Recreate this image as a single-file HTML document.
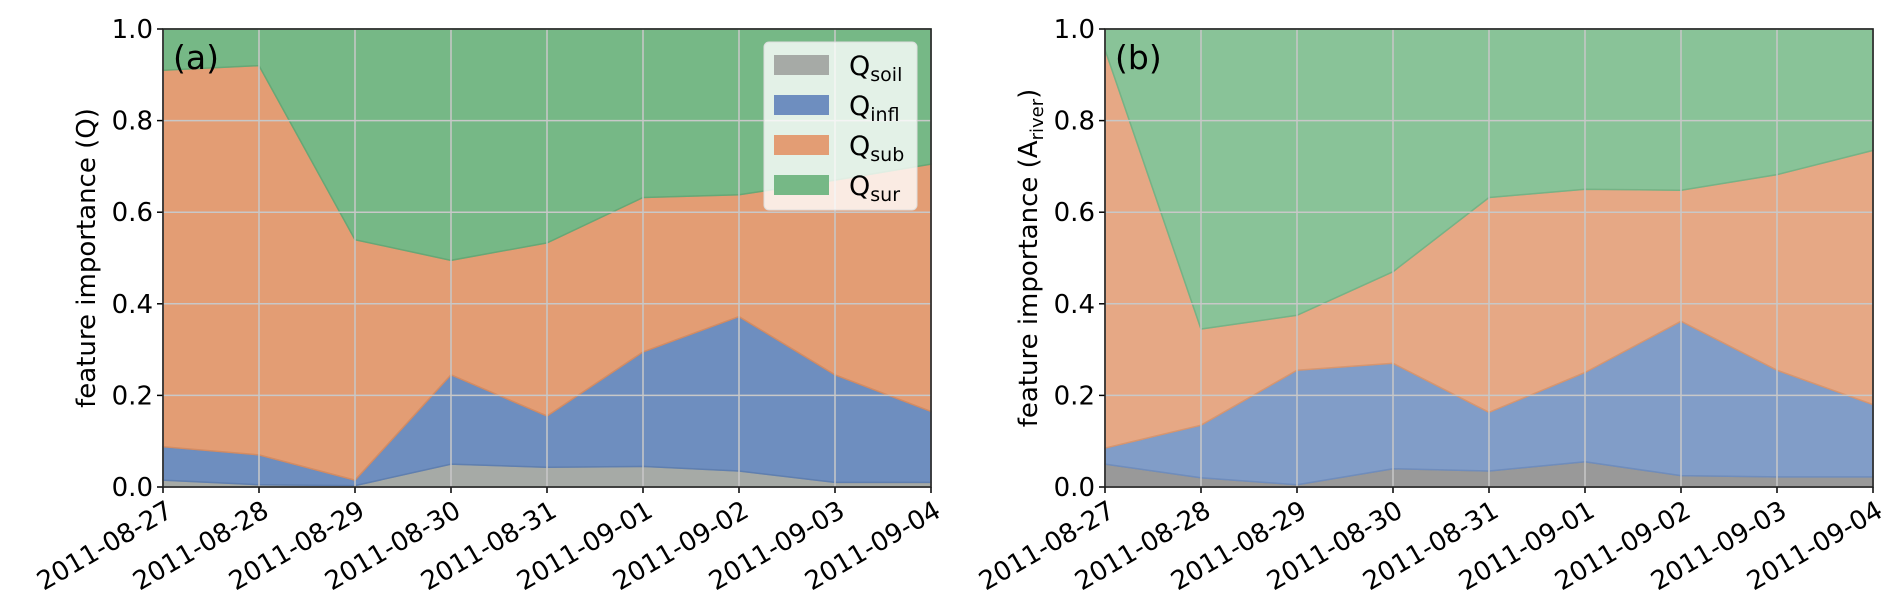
<!DOCTYPE html>
<html><head><meta charset="utf-8"><style>
html,body{margin:0;padding:0;background:#fff;}
svg{display:block;font-family:"DejaVu Sans","Liberation Sans",sans-serif;}
</style></head><body>
<svg id="chart" width="1892" height="613" viewBox="0 0 1892 613"></svg>
<script>
const dates = ["2011-08-27","2011-08-28","2011-08-29","2011-08-30","2011-08-31","2011-09-01","2011-09-02","2011-09-03","2011-09-04"];
const yTicks = [0.0,0.2,0.4,0.6,0.8,1.0];
const yTickLabels = ["0.0","0.2","0.4","0.6","0.8","1.0"];
// Panel (a) component values (stacked)
const aSoil = [0.015,0.005,0.003,0.050,0.043,0.045,0.035,0.010,0.010];
const aInfl = [0.073,0.065,0.012,0.195,0.112,0.250,0.337,0.235,0.155];
const aSub  = [0.822,0.850,0.525,0.250,0.378,0.337,0.266,0.425,0.540];
const aSur  = [0.090,0.080,0.460,0.505,0.467,0.368,0.362,0.330,0.295];
// Panel (b) component values (stacked)
const bSoil = [0.050,0.020,0.005,0.040,0.035,0.055,0.025,0.022,0.022];
const bInfl = [0.035,0.115,0.250,0.230,0.128,0.195,0.337,0.233,0.158];
const bSub  = [0.870,0.210,0.120,0.200,0.469,0.400,0.286,0.427,0.555];
const bSur  = [0.045,0.655,0.625,0.530,0.368,0.350,0.352,0.318,0.265];

const NS="http://www.w3.org/2000/svg";
const svg=document.getElementById('chart');
function mk(tag,attrs,parent){const e=document.createElementNS(NS,tag);for(const k in attrs)e.setAttribute(k,attrs[k]);(parent||svg).appendChild(e);return e;}

function panel(id,left,series,colors,lineColors,tag,ylabelMain,ylabelSub){
  const right=left+768, top=29, bottom=487;
  const g=mk('g',{});
  
  
  const xS=i=>left+(right-left)*i/(dates.length-1);
  const yS=v=>bottom-(bottom-top)*v;
  const names=['soil','infl','sub','sur'];
  let base=dates.map(()=>0);
  series.forEach((s,k)=>{
    const topv=base.map((b,i)=>b+s[i]);
    let d='';
    topv.forEach((v,i)=>{d+=(i?'L':'M')+xS(i).toFixed(1)+','+yS(Math.min(v,1)).toFixed(1);});
    for(let i=dates.length-1;i>=0;i--)d+='L'+xS(i).toFixed(1)+','+yS(base[i]).toFixed(1);
    const p=mk('path',{d:d+'Z',fill:colors[k],stroke:lineColors[k],'stroke-width':1.5},g);
    
    
    base=topv;
  });
  dates.forEach((dt,i)=>{
    const l=mk('line',{x1:xS(i),x2:xS(i),y1:top,y2:bottom,stroke:'#c8c8c8','stroke-width':1.5},g);
    
    
  });
  yTicks.forEach((v,i)=>{
    const l=mk('line',{x1:left,x2:right,y1:yS(v),y2:yS(v),stroke:'#c8c8c8','stroke-width':1.5},g);
    
    
    mk('line',{x1:left-6,x2:left,y1:yS(v),y2:yS(v),stroke:'#000','stroke-width':1.5},g);
    const t=mk('text',{x:left-10,y:yS(v)+9,'text-anchor':'end','font-size':26,fill:'#000'},g);
    t.textContent=yTickLabels[i];
    
    
  });
  dates.forEach((dt,i)=>{
    mk('line',{x1:xS(i),x2:xS(i),y1:bottom,y2:bottom+6,stroke:'#000','stroke-width':1.5},g);
    const x=xS(i)+2, y=bottom+12;
    const t=mk('text',{x:x,y:y+19,'text-anchor':'end','font-size':26,fill:'#000',transform:`rotate(-30 ${x} ${y})`},g);
    t.textContent=dt;
    
    
  });
  const fr=mk('rect',{x:left,y:top,width:right-left,height:bottom-top,fill:'none',stroke:'#222','stroke-width':1.6},g);
  
  
  const pl=mk('text',{x:left+10,y:top+40,'font-size':33,fill:'#000'},g);
  pl.textContent=tag;
  
  
  const cy=(top+bottom)/2, cx=left-68;
  const yl=mk('text',{x:cx,y:cy,'text-anchor':'middle','font-size':26,fill:'#000',transform:`rotate(-90 ${cx} ${cy})`},g);
  
  
  const t1=mk('tspan',{},yl);t1.textContent=ylabelMain;
  if(ylabelSub){
    const t2=mk('tspan',{'font-size':18,dy:6},yl);t2.textContent=ylabelSub;
    const t3=mk('tspan',{dy:-6},yl);t3.textContent=')';
  }
}

panel('a',163,[aSoil,aInfl,aSub,aSur],
  ['#a6aaa6','#6e8ebf','#e39d74','#76b886'],
  ['#939793','#5f7fb0','#d48c63','#66a876'],'(a)','feature importance (Q)','');
panel('b',1105,[bSoil,bInfl,bSub,bSur],
  ['#999999','#819dc8','#e6a885','#89c398'],
  ['#888888','#6f8dbd','#d8966f','#75b386'],'(b)','feature importance (A','river');

const lg=mk('g',{});


const lb=mk('rect',{x:764,y:42,width:153,height:168,rx:5,fill:'#ffffff','fill-opacity':0.8,stroke:'#dddddd','stroke-width':1},lg);


const legNames=['soil','infl','sub','sur'];
const legColors=['#a6aaa6','#6e8ebf','#e39d74','#76b886'];
legNames.forEach((n,i)=>{
  const y=55+i*40;
  const r=mk('rect',{x:774,y:y,width:55,height:20,fill:legColors[i]},lg);
  
  
  const t=mk('text',{x:849,y:y+20,'font-size':27,fill:'#000'},lg);
  
  
  const a=mk('tspan',{},t);a.textContent='Q';
  const b=mk('tspan',{'font-size':19,dy:6},t);b.textContent=n;
});
</script>
</body></html>
